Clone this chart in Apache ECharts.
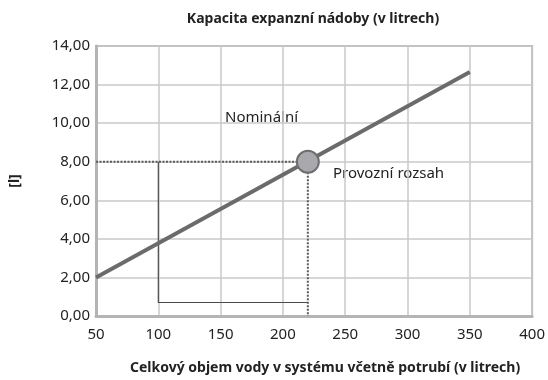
<!DOCTYPE html>
<html>
<head>
<meta charset="utf-8">
<script src="https://cdn.jsdelivr.net/npm/echarts@6/dist/echarts.min.js"></script>
<style>
  html, body { margin: 0; padding: 0; background: #fff; }
  #chart { width: 548px; height: 380px; }
</style>
</head>
<body>
<div id="chart"></div>
<script>
// Expansion vessel capacity vs. total system water volume
const capacityLine = [[50, 2.0], [350, 12.65]];
const operatingPoint = [[220, 8]];
const guideHorizontal = [[50, 8], [220, 8]];
const guideVertical = [[220, 8], [220, 0]];
const nominalBox = [[100, 8], [100, 0.7], [220, 0.7]];
const xTicks = [50, 100, 150, 200, 250, 300, 350, 400];
const yTicks = [0, 2, 4, 6, 8, 10, 12, 14];

const font = 'Noto Sans';
const chart = echarts.init(document.getElementById('chart'));

chart.setOption({
  animation: false,
  title: {
    text: 'Kapacita expanzní nádoby (v litrech)',
    left: 308, top: 7, textAlign: 'center',
    textStyle: { fontFamily: font, fontSize: 14, fontWeight: 'bold', color: '#222' }
  },
  grid: {
    left: 95, right: 10, top: 46, bottom: 64,
    show: true, borderColor: '#b4b4b4', borderWidth: 2
  },
  xAxis: {
    type: 'value',
    min: xTicks[0], max: xTicks[xTicks.length - 1], interval: 50,
    name: 'Celkový objem vody v systému včetně potrubí (v litrech)',
    nameLocation: 'middle', nameGap: 45,
    nameTextStyle: { fontFamily: font, fontSize: 14, fontWeight: 'bold', color: '#222', padding: [0, 0, 0, 22] },
    axisLine: { show: true, lineStyle: { color: '#b4b4b4', width: 3 } },
    axisTick: { show: false },
    axisLabel: { fontFamily: font, fontSize: 15, color: '#222', margin: 11 },
    splitLine: { show: true, lineStyle: { color: '#c8c8c8', width: 1.5 } }
  },
  yAxis: {
    type: 'value',
    min: yTicks[0], max: yTicks[yTicks.length - 1], interval: 2,
    name: '[l]', nameLocation: 'middle', nameGap: 74, nameRotate: 90,
    nameTextStyle: { fontFamily: font, fontSize: 14, fontWeight: 'bold', color: '#222' },
    axisLine: { show: true, lineStyle: { color: '#b4b4b4', width: 3 } },
    axisTick: { show: false },
    axisLabel: {
      fontFamily: font, fontSize: 15, color: '#222', margin: 6,
      formatter: v => v.toFixed(2).replace('.', ',')
    },
    splitLine: { show: true, lineStyle: { color: '#c8c8c8', width: 1.5 } }
  },
  graphic: [
    { type: 'text', left: 225, top: 110, style: { text: 'Nominální', fontFamily: font, fontSize: 15, fill: '#222' } },
    { type: 'text', left: 333, top: 166, style: { text: 'Provozní rozsah', fontFamily: font, fontSize: 15, fill: '#222' } }
  ],
  series: [
    {
      type: 'line', data: nominalBox, symbol: 'none', z: 2,
      lineStyle: { color: '#4a4a4a', width: 1.2 }
    },
    {
      type: 'line', data: guideHorizontal, symbol: 'none', z: 3,
      lineStyle: { color: '#5a5a5a', width: 2, type: [2, 1.5] }
    },
    {
      type: 'line', data: guideVertical, symbol: 'none', z: 3,
      lineStyle: { color: '#5a5a5a', width: 2, type: [2, 1.5] }
    },
    {
      type: 'line', data: capacityLine, symbol: 'none', z: 4,
      lineStyle: { color: '#6b6b6b', width: 4 }
    },
    {
      type: 'scatter', data: operatingPoint, symbolSize: 22, z: 5,
      itemStyle: { color: '#a9a9ad', borderColor: '#6e6e6e', borderWidth: 2, opacity: 1 }
    }
  ]
});
</script>
</body>
</html>
